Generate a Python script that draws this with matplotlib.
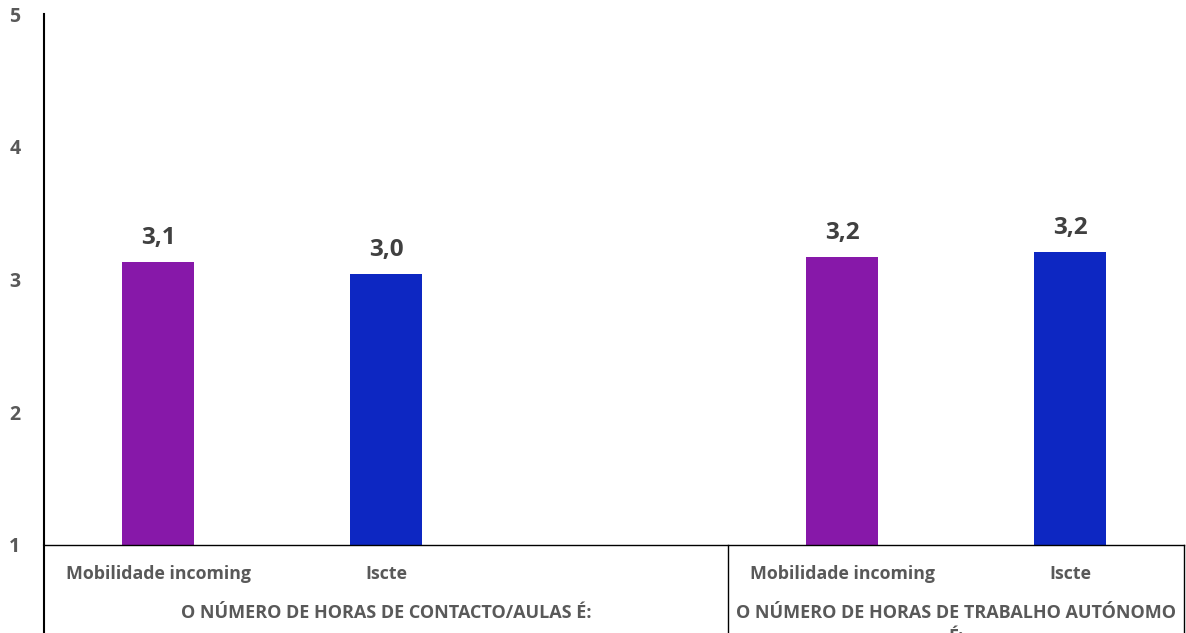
import matplotlib
matplotlib.use('Agg')
import matplotlib.pyplot as plt
from matplotlib import transforms

# valores médios (escala 1 a 5)
categorias = ['Mobilidade incoming', 'Iscte', '', 'Mobilidade incoming', 'Iscte']
valores = [3.13, 3.04, None, 3.17, 3.21]
grupos = ['O NÚMERO DE HORAS DE CONTACTO/AULAS É:',
          'O NÚMERO DE HORAS DE TRABALHO AUTÓNOMO\nÉ:']
grupo_limites = [(-0.5, 2.5), (2.5, 4.5)]
cores = ['#8718A9', '#0D27C2', '#FFFFFF', '#8718A9', '#0D27C2']

plt.rcParams['font.family'] = ['Open Sans', 'DejaVu Sans']
plt.rcParams['font.weight'] = 'bold'

fig = plt.figure(figsize=(11.86, 6.33), dpi=100)
ax = fig.add_axes([44 / 1186, 1 - 545 / 633, 1140 / 1186, 531 / 633])

x = list(range(len(categorias)))
for xi, v, c in zip(x, valores, cores):
    if v is None:
        continue
    ax.bar(xi, v - 1, bottom=1, width=0.316, color=c)
    ax.annotate(f'{v:.1f}'.replace('.', ','), (xi, v), xytext=(0, 18),
                textcoords='offset pixels', ha='center', va='baseline',
                fontsize=17.5, fontweight='bold', color='#404040')

ax.set_xlim(-0.5, 4.5)
ax.set_ylim(1, 5)
ax.set_yticks([1, 2, 3, 4, 5])
ax.tick_params(axis='y', length=0, pad=17, labelsize=14, labelcolor='#595959')
ax.set_xticks([])
for s in ['top', 'right']:
    ax.spines[s].set_visible(False)
ax.spines['left'].set_color('black')
ax.spines['left'].set_linewidth(1.5)
ax.spines['bottom'].set_color('black')
ax.spines['bottom'].set_linewidth(1.0)

# eixo de categorias em dois níveis
trans = transforms.blended_transform_factory(ax.transData, ax.transAxes)
fundo = -88 / 531
ax.plot([-0.5, -0.5], [0, fundo], transform=trans, color='black', lw=1.5, clip_on=False)
for xs in [2.5, 4.5]:
    ax.plot([xs, xs], [0, fundo], transform=trans, color='black', lw=1.0, clip_on=False)

for xi, nome in zip(x, categorias):
    ax.text(xi, -29 / 531, nome, transform=trans, ha='center', va='center',
            fontsize=12.8, fontweight='bold', color='#595959')

for (a, b), nome in zip(grupo_limites, grupos):
    ax.text((a + b) / 2, -59 / 531, nome, transform=trans, ha='center', va='top',
            fontsize=13.0, fontweight='bold', color='#595959', linespacing=1.4)

fig.savefig('out.png', dpi=100)
